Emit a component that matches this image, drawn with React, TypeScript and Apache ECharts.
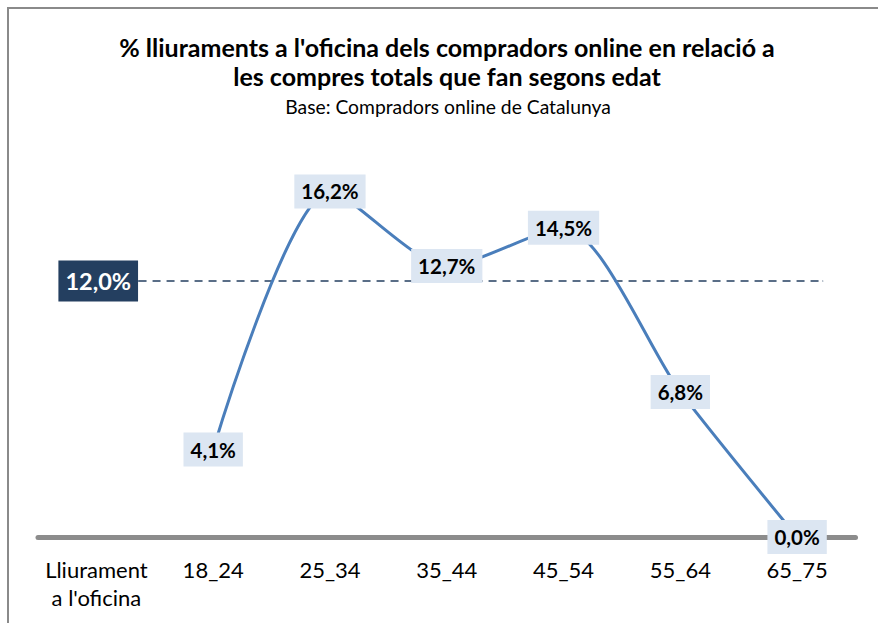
import React, { useEffect, useRef } from "react";
import * as echarts from "echarts";

const titleLines = [
  "% lliuraments a l'oficina dels compradors online en relació a",
  "les compres totals que fan segons edat",
];
const subtitle = "Base: Compradors online de Catalunya";
const categories = ["Lliurament\na l'oficina", "18_24", "25_34", "35_44", "45_54", "55_64", "65_75"];
const values: (number | null)[] = [null, 4.1, 16.2, 12.7, 14.5, 6.8, 0.0];
const averageValue = 12.0;

const FONT = "Lato";
const fmt = (v: number) => v.toFixed(1).replace(".", ",") + "%";

export default function App() {
  const ref = useRef<HTMLDivElement>(null);
  useEffect(() => {
    if (!ref.current) return;
    const chart = echarts.init(ref.current, null, { renderer: "svg" });
    chart.setOption({
      animation: false,
      backgroundColor: "#ffffff",
      graphic: [
        {
          type: "rect",
          shape: { x: 8, y: 8, width: 900, height: 700 },
          style: { fill: "none", stroke: "#8a8a8a", lineWidth: 2 },
          silent: true,
        },
        {
          type: "text",
          x: 447,
          y: 47,
          silent: true,
          style: {
            text: titleLines[0],
            align: "center",
            verticalAlign: "middle",
            fontFamily: FONT,
            fontSize: 25,
            fontWeight: "bold",
            fill: "#000",
          },
        },
        {
          type: "text",
          x: 447,
          y: 76,
          silent: true,
          style: {
            text: titleLines[1],
            align: "center",
            verticalAlign: "middle",
            fontFamily: FONT,
            fontSize: 25,
            fontWeight: "bold",
            fill: "#000",
          },
        },
        {
          type: "text",
          x: 448,
          y: 106,
          silent: true,
          style: {
            text: subtitle,
            align: "center",
            verticalAlign: "middle",
            fontFamily: FONT,
            fontSize: 19.3,
            fontWeight: "normal",
            fill: "#000",
          },
        },
      ],
      grid: { left: 38, right: 22.5, top: 153, bottom: 86 },
      xAxis: [
        {
          type: "category",
          data: categories,
          boundaryGap: true,
          axisLine: { show: true, lineStyle: { color: "#8c8c8c", width: 5 } },
          axisTick: { show: false },
          axisLabel: {
            fontFamily: FONT,
            fontSize: 22,
            color: "#000",
            lineHeight: 28,
            margin: 18,
            interval: 0,
            verticalAlign: "top",
          },
          splitLine: { show: false },
        },
        { type: "value", min: 0, max: 1, show: false },
      ],
      yAxis: { type: "value", min: 0, max: 18, show: false, splitLine: { show: false } },
      series: [
        {
          type: "line",
          name: "Lliurament a l'oficina",
          data: values,
          smooth: 0.25,
          showSymbol: true,
          symbol: "circle",
          symbolSize: 1,
          itemStyle: { color: "#4a7ebb" },
          lineStyle: { color: "#4a7ebb", width: 3 },
          connectNulls: false,
          z: 3,
          label: {
            show: true,
            position: "inside",
            formatter: (p: any) => fmt(p.value),
            fontFamily: FONT,
            fontSize: 20.5,
            fontWeight: "bold",
            color: "#000",
            backgroundColor: "#dce6f2",
            padding: [7, 7],
            lineHeight: 20,
          },
        },
        {
          type: "line",
          name: "Mitjana",
          xAxisIndex: 1,
          yAxisIndex: 0,
          symbol: "circle",
          symbolSize: 1,
          itemStyle: { color: "#243f60" },
          lineStyle: { color: "#243f60", width: 1.5, type: [8, 6] },
          z: 2,
          data: [
            {
              value: [0.123, averageValue],
              label: {
                show: true,
                position: "left",
                distance: 0,
                formatter: () => fmt(averageValue),
                fontFamily: FONT,
                fontSize: 23.5,
                fontWeight: "bold",
                color: "#fff",
                backgroundColor: "#243f60",
                padding: [8, 7],
                lineHeight: 25,
              },
            },
            { value: [0.96, averageValue] },
          ],
        },
      ],
    });
    return () => chart.dispose();
  }, []);
  return <div ref={ref} style={{ position: "fixed", left: 0, top: 0, width: 878, height: 623 }} />;
}
